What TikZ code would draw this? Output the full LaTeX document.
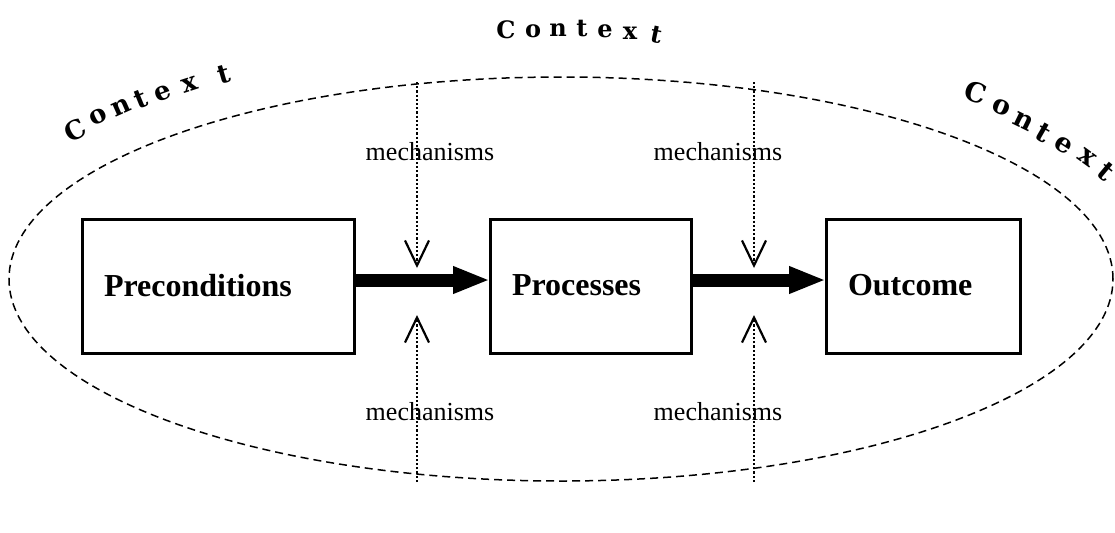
\documentclass[tikz,border=0pt]{standalone}
\usepackage{fontspec}
\setmainfont{Liberation Serif}
\newfontfamily\ctxfont{DejaVu Serif}
\usetikzlibrary{arrows.meta}
\tikzset{
  stagebox/.style={draw, line width=1.5pt, inner xsep=11pt, inner ysep=0pt, outer sep=0pt,
    minimum height=67pt, align=left, font=\fontsize{16}{19}\selectfont\bfseries},
  bigarrow/.style={line width=6.5pt, -{Triangle[length=18.5pt,width=12.5pt]}},
  mecharrow/.style={line width=1.1pt, dash pattern=on 1.1pt off 1pt,
    -{Straight Barb[length=12.5pt,width=12pt,line width=1.1pt]}},
  mechlabel/.style={font=\fontsize{13}{15}\selectfont, inner sep=0pt},
  ctxtop/.style={font=\ctxfont\bfseries\fontsize{12}{14}\selectfont, inner sep=0pt},
  ctxleft/.style={font=\ctxfont\bfseries\fontsize{13}{15}\selectfont, inner sep=0pt},
  ctxright/.style={font=\ctxfont\bfseries\fontsize{13.5}{15}\selectfont, inner sep=0pt},
  ctxline/.style={line width=0.75pt, dash pattern=on 4pt off 2.5pt}
}
\begin{document}
\begin{tikzpicture}[x=0.5pt,y=-0.5pt]
\useasboundingbox (0,0) rectangle (1115,532);
% context ellipse
\draw[ctxline] (561,279) ellipse [x radius=276pt, y radius=101pt];
% stage boxes
\node[stagebox, text width=114pt] (pre) at (218,286) {\raisebox{-2pt}{Preconditions}};
\node[stagebox, text width=78.5pt] (proc) at (590.5,286) {\raisebox{1pt}{Processes}};
\node[stagebox, text width=75pt] (out) at (923,286) {\raisebox{1pt}{Outcome}};
% main arrows
\draw[bigarrow] (pre.east |- 0,280) -- (proc.west |- 0,280);
\draw[bigarrow] (proc.east |- 0,280) -- (out.west |- 0,280);
% mechanism arrows
\coordinate (m1top) at (417,82);
\coordinate (m1tipa) at (417,268);
\coordinate (m1bot) at (417,482);
\coordinate (m1tipb) at (417,315);
\coordinate (m2top) at (754,82);
\coordinate (m2tipa) at (754,268);
\coordinate (m2bot) at (754,482);
\coordinate (m2tipb) at (754,315);
\draw[mecharrow] (m1top) -- (m1tipa);
\draw[mecharrow] (m1bot) -- (m1tipb);
\draw[mecharrow] (m2top) -- (m2tipa);
\draw[mecharrow] (m2bot) -- (m2tipb);
\node[mechlabel] (l1) at (430,152) {mechanisms};
\node[mechlabel] (l2) at (718,152) {mechanisms};
\node[mechlabel] (l3) at (430,412) {mechanisms};
\node[mechlabel] (l4) at (718,412) {mechanisms};
% Context, top
\node[ctxtop] (t1) at (506,30) {C};
\node[ctxtop] (t2) at (533,31) {o};
\node[ctxtop] (t3) at (558,30) {n};
\node[ctxtop] (t4) at (582,28) {t};
\node[ctxtop] (t5) at (605,31) {e};
\node[ctxtop] (t6) at (630,33) {x};
\node[ctxtop, rotate=-12] (t7) at (657,35) {t};
% Context, left
\node[ctxleft, rotate=28] (c1) at (75,130) {C};
\node[ctxleft, rotate=26] (c2) at (98,117) {o};
\node[ctxleft, rotate=24] (c3) at (121,107) {n};
\node[ctxleft, rotate=22] (c4) at (141,99) {t};
\node[ctxleft, rotate=20] (c5) at (163,93) {e};
\node[ctxleft, rotate=18] (c6) at (190,85) {x};
\node[ctxleft, rotate=16] (c7) at (224,75) {t};
% Context, right
\node[ctxright, rotate=-18] (r1) at (976,92) {C};
\node[ctxright, rotate=-22] (r2) at (1001,107) {o};
\node[ctxright, rotate=-26] (r3) at (1023,121) {n};
\node[ctxright, rotate=-30] (r4) at (1043,133) {t};
\node[ctxright, rotate=-33] (r5) at (1064,145) {e};
\node[ctxright, rotate=-36] (r6) at (1087,158) {x};
\node[ctxright, rotate=-40] (r7) at (1106,172) {t};
\end{tikzpicture}
\end{document}
